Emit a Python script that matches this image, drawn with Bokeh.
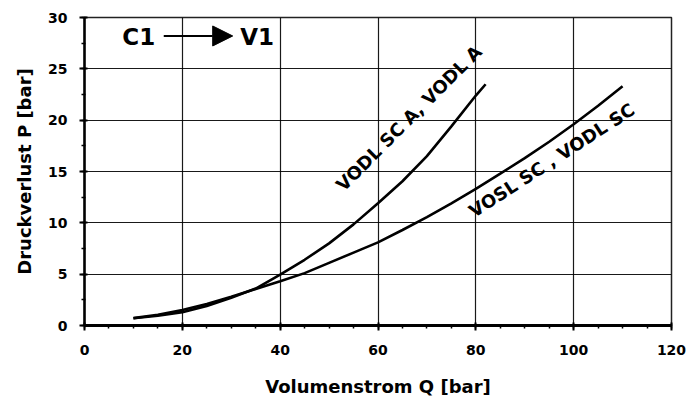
from bokeh.plotting import figure
from bokeh.models import Range1d, FixedTicker, Label, Arrow, NormalHead
from bokeh.embed import file_html
from bokeh.resources import INLINE
import math

# ---- data ----
q_vodl_a = [10, 15, 20, 25, 30, 35, 40, 45, 50, 55, 60, 65, 70, 75, 80, 82]
p_vodl_a = [0.70, 0.95, 1.30, 1.90, 2.70, 3.60, 4.95, 6.40, 8.00, 9.85, 11.90, 14.05, 16.50, 19.40, 22.40, 23.50]

q_vosl = [10, 15, 20, 25, 30, 35, 40, 45, 50, 55, 60, 65, 70, 75, 80, 85, 90, 95, 100, 105, 110]
p_vosl = [0.72, 1.05, 1.50, 2.10, 2.80, 3.55, 4.30, 5.10, 6.10, 7.10, 8.10, 9.30, 10.55, 11.90, 13.30, 14.80, 16.30, 17.90, 19.60, 21.40, 23.30]

label_vodl_a = "VODL SC A, VODL A"
label_vosl = "VOSL SC , VODL SC"
flow_from = "C1"
flow_to = "V1"

x_ticks = [0, 20, 40, 60, 80, 100, 120]
y_ticks = [0, 5, 10, 15, 20, 25, 30]
x_title = "Volumenstrom Q [bar]"
y_title = "Druckverlust P [bar]"

FONT = "DejaVu Sans"

p = figure(frame_width=587, frame_height=308,
           min_border_left=84, min_border_top=17, min_border_right=20, min_border_bottom=60,
           x_range=Range1d(0, 120), y_range=Range1d(0, 30),
           output_backend="svg", toolbar_location=None,
           background_fill_color="white", border_fill_color="white")

p.outline_line_color = "#222222"
p.outline_line_width = 1.5

# grid
p.xgrid.ticker = FixedTicker(ticks=x_ticks)
p.ygrid.ticker = FixedTicker(ticks=y_ticks)
for g in (p.xgrid, p.ygrid):
    g.grid_line_color = "black"
    g.grid_line_width = 1.2
    g.grid_line_alpha = 0.9

# axes
p.xaxis.ticker = FixedTicker(ticks=x_ticks, minor_ticks=list(range(0, 121, 5)))
p.yaxis.ticker = FixedTicker(ticks=y_ticks, minor_ticks=[i * 2.5 for i in range(13)])
for ax in (p.xaxis, p.yaxis):
    ax.axis_line_color = "black"
    ax.major_tick_line_color = "black"
    ax.minor_tick_line_color = "black"
    ax.major_tick_line_width = 2
    ax.minor_tick_line_width = 1.5
    ax.major_tick_out = 5
    ax.major_tick_in = 3
    ax.minor_tick_out = 3
    ax.minor_tick_in = 1
    ax.major_label_text_font = FONT
    ax.major_label_text_font_style = "bold"
    ax.major_label_text_font_size = "14px"
    ax.major_label_text_color = "black"
    ax.axis_label_text_font = FONT
    ax.axis_label_text_font_style = "bold"
    ax.axis_label_text_font_size = "18px"
    ax.axis_label_text_color = "black"

p.xaxis.axis_line_width = 3
p.yaxis.axis_line_width = 2.5
p.xaxis.major_label_standoff = 14
p.yaxis.major_label_standoff = 12
p.xaxis.axis_label = x_title
p.yaxis.axis_label = y_title
p.xaxis.axis_label_standoff = 18
p.yaxis.axis_label_standoff = 10

# curves
p.line(q_vodl_a, p_vodl_a, line_color="black", line_width=2.6)
p.line(q_vosl, p_vosl, line_color="black", line_width=2.6)

# curve labels
p.add_layout(Label(x=66.3, y=20.2, text=label_vodl_a, angle=math.radians(45),
                   text_align="center", text_baseline="middle",
                   text_font=FONT, text_font_style="bold", text_font_size="18px",
                   text_color="black"))
p.add_layout(Label(x=95.5, y=16.1, text=label_vosl, angle=math.radians(33),
                   text_align="center", text_baseline="middle",
                   text_font=FONT, text_font_style="bold", text_font_size="18px",
                   text_color="black"))

# flow direction annotation
p.add_layout(Label(x=11.1, y=28.1, text=flow_from, text_align="center", text_baseline="middle",
                   text_font=FONT, text_font_style="bold", text_font_size="23px", text_color="black"))
p.add_layout(Label(x=35.3, y=28.1, text=flow_to, text_align="center", text_baseline="middle",
                   text_font=FONT, text_font_style="bold", text_font_size="23px", text_color="black"))
p.add_layout(Arrow(x_start=16.2, y_start=28.2, x_end=30.3, y_end=28.2, line_width=2,
                   line_color="black",
                   end=NormalHead(size=20, fill_color="black", line_color="black")))

open("out.html", "w").write(file_html(p, INLINE))
